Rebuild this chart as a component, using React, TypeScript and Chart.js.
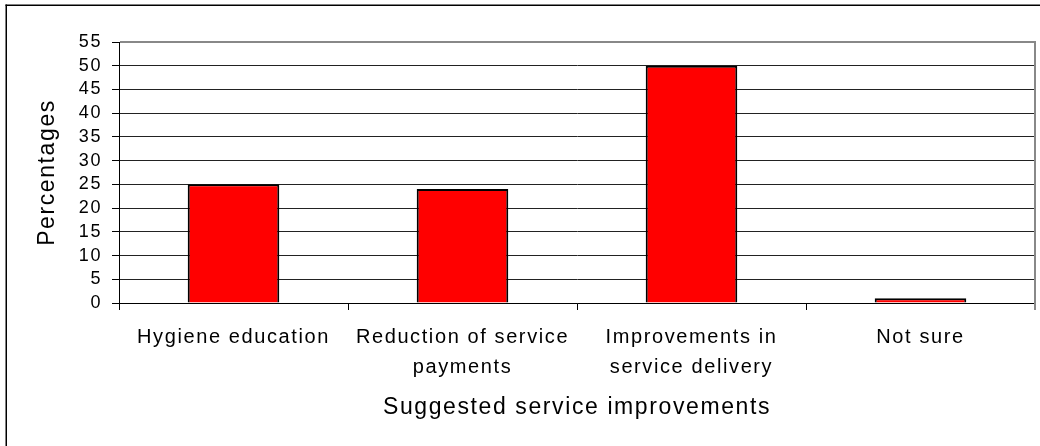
import React, { useEffect, useRef } from "react";
import { Chart, registerables } from "chart.js";

Chart.register(...registerables);

const categories: (string | string[])[] = [
  "Hygiene education",
  ["Reduction of service", "payments"],
  ["Improvements in", "service delivery"],
  "Not sure",
];
const percentages: number[] = [25, 24, 50, 1];
const yTicks: number[] = [0, 5, 10, 15, 20, 25, 30, 35, 40, 45, 50, 55];
const xTitle = "Suggested service improvements";
const yTitle = "Percentages";

const FONT = "'Liberation Sans', Arial, sans-serif";
const SPACING = "1.6px";

const framePlugin = {
  id: "frame",
  beforeUpdate(chart: any) {
    chart.ctx.letterSpacing = SPACING;
  },
  beforeLayout(chart: any) {
    chart.ctx.letterSpacing = SPACING;
  },
  beforeDraw(chart: any) {
    const ctx = chart.ctx;
    ctx.letterSpacing = SPACING;
    ctx.save();
    ctx.fillStyle = "#ffffff";
    ctx.fillRect(0, 0, chart.width, chart.height);
    ctx.restore();
  },
  afterDraw(chart: any) {
    const ctx = chart.ctx;
    const a = chart.chartArea;
    ctx.save();
    ctx.fillStyle = "#000";
    ctx.fillRect(5.5, 4.5, chart.width, 1.5);
    ctx.fillRect(5.5, 4.5, 1.5, chart.height);
    ctx.fillStyle = "#888";
    ctx.fillRect(a.left + 1, a.top - 1, a.right - a.left, 2);
    ctx.fillRect(a.right - 1, a.top - 1, 2, a.bottom - a.top + 8);
    ctx.restore();
  },
};

export default function App() {
  const ref = useRef<HTMLCanvasElement | null>(null);

  useEffect(() => {
    if (!ref.current) return;
    const chart = new Chart(ref.current, {
      type: "bar",
      data: {
        labels: categories,
        datasets: [
          {
            data: percentages,
            backgroundColor: "#ff0000",
            borderColor: "#000",
            borderWidth: 2,
            categoryPercentage: 1,
            barPercentage: 0.4,
          },
        ],
      },
      options: {
        animation: false,
        responsive: false,
        maintainAspectRatio: false,
        layout: { padding: { top: 42, right: 5, left: 0, bottom: 0 } },
        plugins: {
          legend: { display: false },
          tooltip: { enabled: false },
        },
        scales: {
          x: {
            grid: {
              drawOnChartArea: false,
              drawTicks: true,
              tickLength: 7,
              color: "#000",
              offset: true,
            },
            border: { color: "#000", width: 1 },
            ticks: {
              color: "#000",
              padding: 12,
              maxRotation: 0,
              autoSkip: false,
              font: { family: FONT, size: 20, lineHeight: 1.5 },
            },
            title: {
              display: true,
              text: xTitle,
              color: "#000",
              font: { family: FONT, size: 23, lineHeight: 1.2 },
              padding: { top: 0, bottom: 25 },
            },
            afterFit: (scale: any) => {
              scale.height = 143;
            },
          },
          y: {
            min: 0,
            max: 55,
            afterBuildTicks: (scale: any) => {
              scale.ticks = yTicks.map((v) => ({ value: v }));
            },
            grid: {
              drawTicks: true,
              tickLength: 7,
              color: (c: any) => (c.tick && c.tick.value === 55 ? "rgba(0,0,0,0)" : "#222"),
              tickColor: "#000",
              lineWidth: 1,
            },
            border: { color: "#000", width: 1 },
            ticks: {
              color: "#000",
              padding: 10,
              autoSkip: false,
              stepSize: 5,
              font: { family: FONT, size: 18, lineHeight: 1.0 },
            },
            title: {
              display: true,
              text: yTitle,
              color: "#000",
              font: { family: FONT, size: 23, lineHeight: 1.2 },
              padding: { top: 34, bottom: 0 },
            },
            afterFit: (scale: any) => {
              scale.width = 119;
            },
          },
        },
      },
      plugins: [framePlugin],
    });
    return () => chart.destroy();
  }, []);

  return (
    <div
      style={{
        position: "fixed",
        left: 0,
        top: 0,
        width: 1040,
        height: 446,
        background: "#fff",
      }}
    >
      <canvas ref={ref} width={1040} height={446} style={{ width: 1040, height: 446 }} />
    </div>
  );
}
